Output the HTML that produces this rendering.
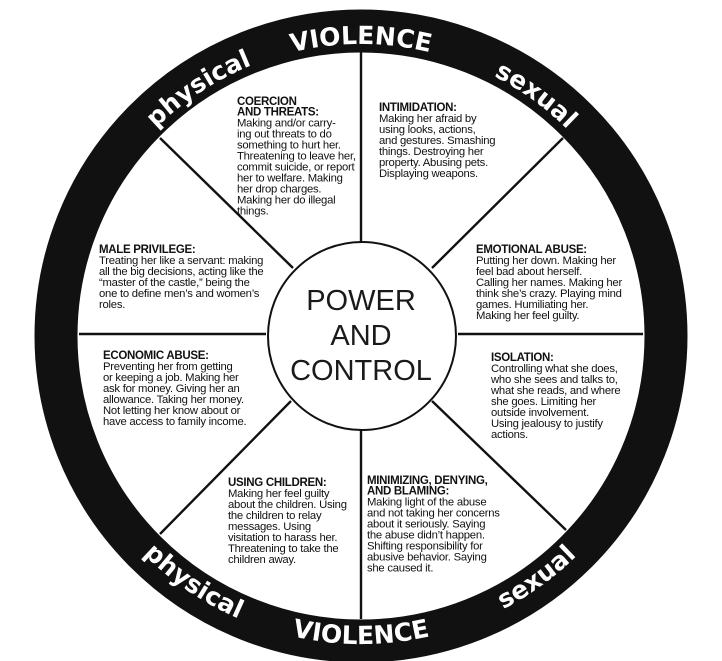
<!DOCTYPE html>
<html><head><meta charset="utf-8"><style>
html,body{margin:0;padding:0;background:#fff;}
svg{display:block;}
.b{font-family:"Liberation Sans",sans-serif;font-size:11.3px;fill:#111;letter-spacing:-0.25px;}
.h{font-weight:bold;font-size:11.5px;letter-spacing:-0.3px;}
.ring{font-family:"DejaVu Sans","Liberation Sans",sans-serif;font-weight:bold;fill:#fff;}
.c{font-family:"Liberation Sans",sans-serif;font-size:29px;fill:#1a1a1a;text-anchor:middle;}
</style></head><body>
<svg width="722" height="661" viewBox="0 0 722 661" xmlns="http://www.w3.org/2000/svg">
<defs>
<path id="top" d="M 69 336 A 292 292 0 0 1 653 336"/>
<path id="bot" d="M 53 336 A 308 308 0 0 0 669 336"/>
</defs>
<circle cx="361" cy="336" r="305" fill="none" stroke="#111" stroke-width="43"/>
<g stroke="#111" stroke-width="2.4">
<line x1="361" y1="52" x2="361" y2="243"/>
<line x1="361" y1="430" x2="361" y2="619"/>
<line x1="79" y1="334" x2="266" y2="334"/>
<line x1="458" y1="334" x2="643" y2="334"/>
<line x1="160" y1="138" x2="293" y2="268"/>
<line x1="563" y1="138" x2="432" y2="268"/>
<line x1="160" y1="534" x2="291" y2="401"/>
<line x1="566" y1="530" x2="432" y2="401"/>
</g>
<circle cx="362" cy="336" r="94" fill="#fff" stroke="#111" stroke-width="2"/>
<text class="c" x="361" y="310">POWER</text>
<text class="c" x="361" y="345">AND</text>
<text class="c" x="361" y="380">CONTROL</text>

<text class="ring" font-size="25" text-anchor="middle"><textPath href="#top" startOffset="50%">VIOLENCE</textPath></text>
<text class="ring" font-size="25" text-anchor="middle"><textPath href="#top" startOffset="31.5%">physical</textPath></text>
<text class="ring" font-size="25" text-anchor="middle"><textPath href="#top" startOffset="70%">sexual</textPath></text>
<text class="ring" font-size="25" text-anchor="middle"><textPath href="#bot" startOffset="50%">VIOLENCE</textPath></text>
<text class="ring" font-size="25" text-anchor="middle"><textPath href="#bot" startOffset="31%">physical</textPath></text>
<text class="ring" font-size="25" text-anchor="middle"><textPath href="#bot" startOffset="70%">sexual</textPath></text>

<text class="b" x="237" y="105"><tspan class="h" x="237">COERCION</tspan><tspan class="h" x="237" dy="10.5">AND THREATS:</tspan><tspan x="237" dy="11">Making and/or carry-</tspan><tspan x="237" dy="11">ing out threats to do</tspan><tspan x="237" dy="11">something to hurt her.</tspan><tspan x="237" dy="11">Threatening to leave her,</tspan><tspan x="237" dy="11">commit suicide, or report</tspan><tspan x="237" dy="11">her to welfare.  Making</tspan><tspan x="237" dy="11">her drop charges.</tspan><tspan x="237" dy="11">Making her do illegal</tspan><tspan x="237" dy="11">things.</tspan></text>

<text class="b" x="379" y="111"><tspan class="h" x="379">INTIMIDATION:</tspan><tspan x="379" dy="11">Making her afraid by</tspan><tspan x="379" dy="11">using looks, actions,</tspan><tspan x="379" dy="11">and gestures.  Smashing</tspan><tspan x="379" dy="11">things.  Destroying her</tspan><tspan x="379" dy="11">property.  Abusing pets.</tspan><tspan x="379" dy="11">Displaying weapons.</tspan></text>

<text class="b" x="99" y="253"><tspan class="h" x="99">MALE PRIVILEGE:</tspan><tspan x="99" dy="11">Treating her like a servant: making</tspan><tspan x="99" dy="11">all the big decisions, acting like the</tspan><tspan x="99" dy="11">“master of the castle,” being the</tspan><tspan x="99" dy="11">one to define men’s and women’s</tspan><tspan x="99" dy="11">roles.</tspan></text>

<text class="b" x="476" y="253"><tspan class="h" x="476">EMOTIONAL ABUSE:</tspan><tspan x="476" dy="11">Putting her down.  Making her</tspan><tspan x="476" dy="11">feel bad about herself.</tspan><tspan x="476" dy="11">Calling her names.  Making her</tspan><tspan x="476" dy="11">think she’s crazy.  Playing mind</tspan><tspan x="476" dy="11">games.  Humiliating her.</tspan><tspan x="476" dy="11">Making her feel guilty.</tspan></text>

<text class="b" x="103" y="359"><tspan class="h" x="103">ECONOMIC ABUSE:</tspan><tspan x="103" dy="11">Preventing her from getting</tspan><tspan x="103" dy="11">or keeping a job.  Making her</tspan><tspan x="103" dy="11">ask for money.  Giving her an</tspan><tspan x="103" dy="11">allowance.  Taking her money.</tspan><tspan x="103" dy="11">Not letting her know about or</tspan><tspan x="103" dy="11">have access to family income.</tspan></text>

<text class="b" x="491" y="361"><tspan class="h" x="491">ISOLATION:</tspan><tspan x="491" dy="11">Controlling what she does,</tspan><tspan x="491" dy="11">who she sees and talks to,</tspan><tspan x="491" dy="11">what she reads, and where</tspan><tspan x="491" dy="11">she goes.  Limiting her</tspan><tspan x="491" dy="11">outside involvement.</tspan><tspan x="491" dy="11">Using jealousy to justify</tspan><tspan x="491" dy="11">actions.</tspan></text>

<text class="b" x="228" y="486"><tspan class="h" x="228">USING CHILDREN:</tspan><tspan x="228" dy="11">Making her feel guilty</tspan><tspan x="228" dy="11">about the children.  Using</tspan><tspan x="228" dy="11">the children to relay</tspan><tspan x="228" dy="11">messages.  Using</tspan><tspan x="228" dy="11">visitation to harass her.</tspan><tspan x="228" dy="11">Threatening to take the</tspan><tspan x="228" dy="11">children away.</tspan></text>

<text class="b" x="367" y="484"><tspan class="h" x="367">MINIMIZING, DENYING,</tspan><tspan class="h" x="367" dy="10.5">AND BLAMING:</tspan><tspan x="367" dy="11">Making light of the abuse</tspan><tspan x="367" dy="11">and not taking her concerns</tspan><tspan x="367" dy="11">about it seriously.  Saying</tspan><tspan x="367" dy="11">the abuse didn’t happen.</tspan><tspan x="367" dy="11">Shifting responsibility for</tspan><tspan x="367" dy="11">abusive behavior.  Saying</tspan><tspan x="367" dy="11">she caused it.</tspan></text>
</svg>
</body></html>
